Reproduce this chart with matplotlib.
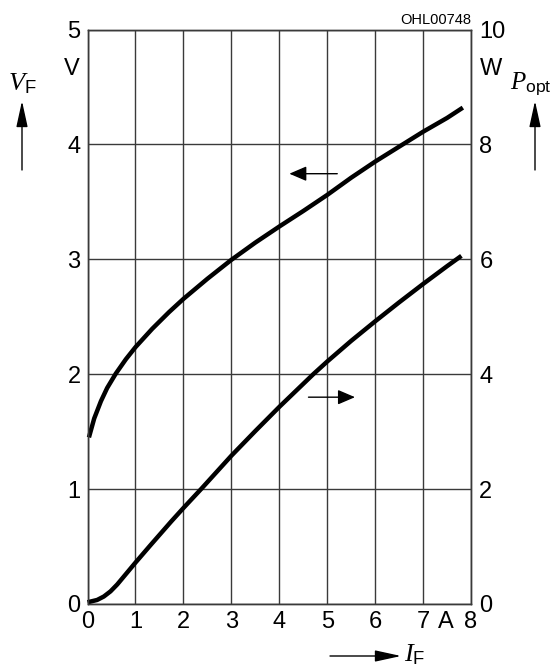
import matplotlib
matplotlib.use("Agg")
import matplotlib.pyplot as plt

plt.rcParams['font.family'] = ['Liberation Sans', 'DejaVu Sans']
plt.rcParams['mathtext.fontset'] = 'custom'
plt.rcParams['mathtext.it'] = 'Liberation Serif:italic'
plt.rcParams['mathtext.rm'] = 'Liberation Sans'

# forward voltage V_F (left axis) vs forward current I_F
i_vf = [0.03, 0.14, 0.28, 0.41, 0.59, 0.8, 1.0, 1.35, 1.7, 2.0, 2.5, 3.0, 3.5, 4.0,
        4.5, 5.0, 5.5, 6.0, 6.5, 7.0, 7.5, 7.83]
v_f = [1.45, 1.615, 1.765, 1.88, 2.005, 2.13, 2.235, 2.395, 2.54, 2.655, 2.83, 2.995, 3.145, 3.285,
       3.42, 3.56, 3.71, 3.85, 3.98, 4.11, 4.23, 4.32]

# optical power P_opt (right axis) vs I_F
i_p = [0.0, 0.2, 0.34, 0.48, 0.62, 0.8, 1.0, 1.32, 1.75, 2.0, 2.38, 3.0, 3.5, 4.0,
       4.71, 5.0, 5.5, 6.0, 6.5, 7.0, 7.5, 7.8]
p_opt = [0.03, 0.07, 0.13, 0.22, 0.34, 0.52, 0.72, 1.03, 1.44, 1.67, 2.01, 2.58, 3.01, 3.43,
         4.0, 4.22, 4.58, 4.92, 5.25, 5.57, 5.88, 6.06]

x_ticks = [0, 1, 2, 3, 4, 5, 6, 7, 8]
v_ticks = [0, 1, 2, 3, 4, 5]
p_ticks = [0, 2, 4, 6, 8, 10]

W, H = 556, 671
fig = plt.figure(figsize=(W / 100, H / 100), dpi=100)
ax = fig.add_axes([87.5 / W, 1 - 604 / H, 383.5 / W, 574.5 / H])
ax2 = ax.twinx()

gc = '#3a3a3a'
ax.set_xlim(0, 8)
ax.set_ylim(0, 5)
ax2.set_ylim(0, 10)
ax.set_xticks(x_ticks)
ax.set_yticks(v_ticks)
ax2.set_yticks(p_ticks)
ax.grid(True, color=gc, linewidth=1.0)
for a in (ax, ax2):
    for s in a.spines.values():
        s.set_color(gc)
        s.set_linewidth(1.0)
    a.tick_params(length=0, labelsize=17)
ax.tick_params(axis='y', pad=5)
ax.tick_params(axis='x', pad=5)
ax2.tick_params(axis='y', pad=6)
ax.set_xticklabels([str(t) for t in x_ticks])

line_kw = dict(color='black', linewidth=3.2, solid_capstyle='butt',
               solid_joinstyle='round', clip_on=False)
ax.plot(i_vf, v_f, **line_kw)
ax2.plot(i_p, p_opt, **line_kw)

# direction arrows on curves
arr = dict(arrowstyle='-|>,head_length=1.05,head_width=0.45', color='black',
           linewidth=1.0, shrinkA=0, shrinkB=0)
ax.annotate('', xy=(4.21, 3.745), xytext=(5.21, 3.745), arrowprops=arr)
ax.annotate('', xy=(5.58, 1.80), xytext=(4.61, 1.80), arrowprops=arr)

# units
ax.text(7.47, -0.155, 'A', ha='center', va='center', fontsize=17)
ax.annotate('V', xy=(0, 4.66), xycoords=('axes fraction', 'data'), xytext=(-5.5, 0),
            textcoords='offset points', ha='right', va='center', fontsize=17)
ax2.annotate('W', xy=(1, 9.32), xycoords=('axes fraction', 'data'), xytext=(6.5, 0),
             textcoords='offset points', ha='left', va='center', fontsize=17)
ax.text(1.0, 1.005, 'OHL00748', transform=ax.transAxes, ha='right', va='bottom', fontsize=10.5)

# axis quantity labels with arrows
side = dict(arrowstyle='-|>,head_length=1.6,head_width=0.35', color='black',
            linewidth=1.0, shrinkA=0, shrinkB=0)
fig.text(22 / W, 1 - 84 / H, r'$\mathit{V}_{\mathrm{F}}$', ha='center', va='center', fontsize=19)
ax.annotate('', xy=(22, H - 101), xytext=(22, H - 170), xycoords='figure pixels',
            textcoords='figure pixels', arrowprops=side)
fig.text(552 / W, 1 - 84 / H, r'$\mathit{P}_{\mathrm{opt}}$', ha='right', va='center', fontsize=18)
ax.annotate('', xy=(535, H - 101), xytext=(535, H - 170), xycoords='figure pixels',
            textcoords='figure pixels', arrowprops=side)
ax.annotate('', xy=(401, H - 656), xytext=(330, H - 656), xycoords='figure pixels',
            textcoords='figure pixels', arrowprops=side)
fig.text(404 / W, 1 - 655 / H, r'$\mathit{I}_{\mathrm{F}}$', ha='left', va='center', fontsize=19)

fig.savefig('out.png', dpi=100)
